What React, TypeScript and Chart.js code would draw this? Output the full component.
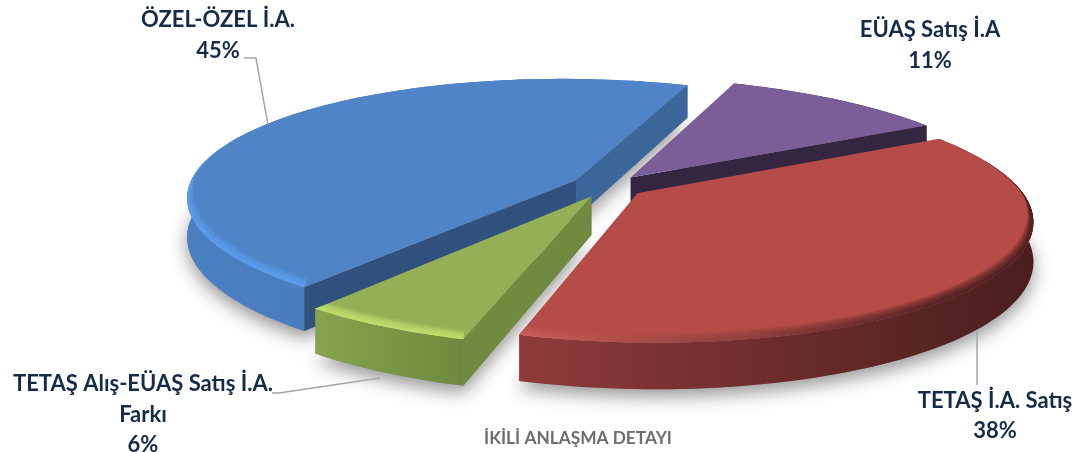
import React, { useEffect, useRef } from "react";
import { Chart, registerables } from "chart.js";

Chart.register(...registerables);

const categories = ["EÜAŞ Satış İ.A", "TETAŞ İ.A. Satış", "TETAŞ Alış-EÜAŞ Satış İ.A. Farkı", "ÖZEL-ÖZEL İ.A."];
const shares = [11, 38, 6, 45];
const chartTitle = "İKİLİ ANLAŞMA DETAYI";
const topColors = ["#7b5e98", "#b64c48", "#93b056", "#4f84c6"];

// Per slice 3D look: [face at start angle, face at end angle]; null when it faces away.
const cutFaces: (string | null)[][] = [
  [null, "#342640"],
  [null, null],
  ["#708a40", null],
  ["#30507d", "#3b6699"],
];
const wallStops = [
  ["#342640", "#342640"],
  ["#8f3a3a", "#4a1e1e"],
  ["#86a44d", "#6d893e"],
  ["#4a7fc2", "#4478b8"],
];
const bevelLeft = ["#7b5e98", "#ea6f6c", "#c0de6c", "#5c9eee"];
const bevelRight = ["#7b5e98", "#4f2020", "#b8d868", "#5c9eee"];
const drawOrder = [0, 3, 1, 2];

const labelLines = [["EÜAŞ Satış İ.A"], ["TETAŞ İ.A. Satış"], ["TETAŞ Alış-EÜAŞ Satış İ.A.", "Farkı"], ["ÖZEL-ÖZEL İ.A."]];

// Layout of the annotation text and leader lines (page pixels)
const labelAnchors = [
  { x: 930, y: 37, gap: 31 },
  { x: 995, y: 408, gap: 30 },
  { x: 143, y: 391, gap: 30.5 },
  { x: 218, y: 27, gap: 31 },
];
const leaders = [
  [],
  [[977, 330], [977, 385]],
  [[380, 378], [279, 393], [272, 393]],
  [[244, 58], [256, 58], [268, 125]],
];

// Perspective projection of the pie's disc
const CX = 608, CY = 186, A = 385, B = 120.6, K = 0.174, TILT = 5, DEPTH = 38;

const project = (nx: number, ny: number) => {
  const w = 1 / (1 - K * ny);
  return { x: CX + A * nx * w, y: CY + B * ny * w + TILT * nx, d: DEPTH * w };
};

const hexMix = (a: string, b: string, t: number) => {
  const p = (s: string, i: number) => parseInt(s.slice(i, i + 2), 16);
  const c = [1, 3, 5].map((i) => Math.round(p(a, i) + (p(b, i) - p(a, i)) * t));
  return `rgb(${c[0]},${c[1]},${c[2]})`;
};

const pie3d = {
  id: "pie3d",
  beforeDatasetDraw(chart: any) {
    const ctx: CanvasRenderingContext2D = chart.ctx;
    const els = chart.getDatasetMeta(0).data;
    const geo = els.map((el: any) => {
      const { startAngle, endAngle, outerRadius } = el.getProps(["startAngle", "endAngle", "outerRadius"], true);
      const mid = (startAngle + endAngle) / 2;
      const off = (el.options.offset || 0) / 4 / outerRadius;
      const ox = Math.cos(mid) * off, oy = Math.sin(mid) * off;
      const steps = Math.max(8, Math.ceil((endAngle - startAngle) * 40));
      const rim = [];
      for (let s = 0; s <= steps; s++) {
        const a = startAngle + ((endAngle - startAngle) * s) / steps;
        rim.push({ ...project(ox + Math.cos(a), oy + Math.sin(a)), v: Math.sin(a), u: Math.cos(a), ox, oy, a });
      }
      return { apex: project(ox, oy), rim };
    });
    const poly = (pts: { x: number; y: number }[]) => {
      ctx.beginPath();
      pts.forEach((p, i) => (i ? ctx.lineTo(p.x, p.y) : ctx.moveTo(p.x, p.y)));
      ctx.closePath();
    };
    const down = (p: any) => ({ x: p.x, y: p.y + p.d });

    ctx.save();
    // soft ground shadow
    ctx.shadowColor = "rgba(0,0,0,0.42)";
    ctx.shadowBlur = 18;
    ctx.shadowOffsetY = 7;
    ctx.fillStyle = "#888";
    drawOrder.forEach((i) => {
      const g = geo[i];
      poly([down(g.apex), ...g.rim.map(down)]);
      ctx.fill();
    });
    ctx.restore();

    drawOrder.forEach((i) => {
      const g = geo[i];
      const first = g.rim[0], last = g.rim[g.rim.length - 1];
      // outer wall
      const xs = g.rim.map((p: any) => p.x);
      const grad = ctx.createLinearGradient(Math.min(...xs), 0, Math.max(...xs), 0);
      grad.addColorStop(0, wallStops[i][0]);
      grad.addColorStop(1, wallStops[i][1]);
      ctx.fillStyle = grad;
      poly([...g.rim, ...g.rim.map(down).reverse()]);
      ctx.fill();
      // flat cut faces
      const faces = [first, last];
      faces.forEach((corner: any, f: number) => {
        const col = cutFaces[i][f];
        if (!col) return;
        ctx.fillStyle = col;
        poly([g.apex, corner, down(corner), down(g.apex)]);
        ctx.fill();
      });
      // top face
      ctx.fillStyle = topColors[i];
      poly([g.apex, ...g.rim]);
      ctx.fill();
      // bevel on the near rim
      ctx.save();
      poly([g.apex, ...g.rim]);
      ctx.clip();
      const layers = 12;
      ctx.lineWidth = 1.6;
      for (let j = layers; j >= 0; j--) {
        const t = j / layers;
        for (let s = 0; s < g.rim.length - 1; s++) {
          const p = g.rim[s], q = g.rim[s + 1];
          const fade = Math.min(1, Math.max(0, (p.v + 0.35) / 0.45));
          if (fade <= 0) continue;
          const bev = hexMix(bevelLeft[i], bevelRight[i], Math.min(1, Math.max(0, (p.u + 0.5) / 1.2)));
          ctx.globalAlpha = fade * (1 - t);
          ctx.strokeStyle = bev;
          const h = 10 * t;
          ctx.beginPath();
          ctx.moveTo(p.x - p.u * 6 * t, p.y - h);
          ctx.lineTo(q.x - q.u * 6 * t, q.y - h);
          ctx.stroke();
        }
      }
      ctx.restore();
    });

    // leader lines
    ctx.save();
    ctx.strokeStyle = "#a6a6a6";
    ctx.lineWidth = 1.5;
    leaders.forEach((line) => {
      if (!line.length) return;
      ctx.beginPath();
      line.forEach((p, i) => (i ? ctx.lineTo(p[0], p[1]) : ctx.moveTo(p[0], p[1])));
      ctx.stroke();
    });
    // labels
    ctx.textAlign = "center";
    ctx.textBaseline = "alphabetic";
    ctx.fillStyle = "#142c4a";
    ctx.font = 'bold 22px Lato';
    labelLines.forEach((lines, i) => {
      const all = [...lines, `${shares[i]}%`];
      all.forEach((t, n) => ctx.fillText(t, labelAnchors[i].x, labelAnchors[i].y + n * labelAnchors[i].gap));
    });
    ctx.fillStyle = "#6e6e6e";
    ctx.font = 'bold 17.3px Lato';
    ctx.fillText(chartTitle, 578, 444);
    ctx.restore();
    return false;
  },
};

export default function App() {
  const ref = useRef<HTMLCanvasElement>(null);
  useEffect(() => {
    document.body.style.margin = "0";
    const chart = new Chart(ref.current as HTMLCanvasElement, {
      type: "pie",
      data: {
        labels: categories,
        datasets: [{ data: shares, backgroundColor: topColors, offset: 72, borderWidth: 0 }],
      },
      options: {
        responsive: false,
        animation: false,
        rotation: 19,
        events: [],
        plugins: { legend: { display: false }, tooltip: { enabled: false }, title: { display: false } },
      },
      plugins: [pie3d as any],
    });
    return () => chart.destroy();
  }, []);
  return <canvas ref={ref} width={1081} height={452} style={{ display: "block" }} />;
}
